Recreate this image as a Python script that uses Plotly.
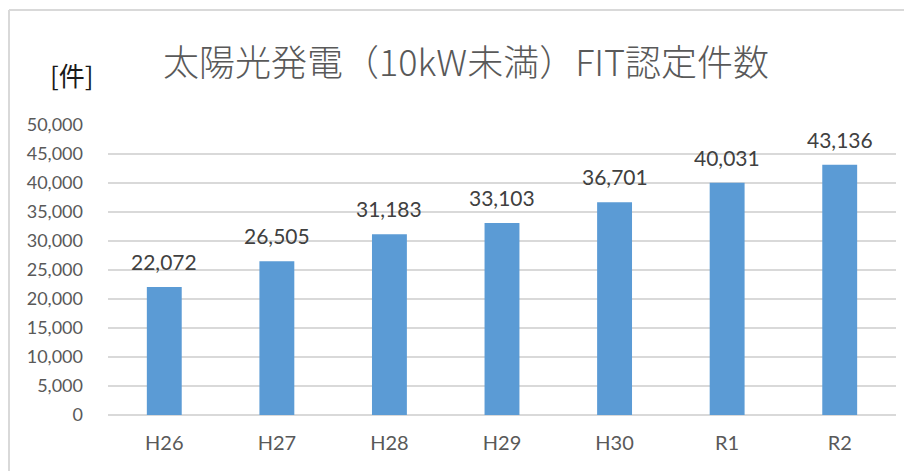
import plotly.graph_objects as go

categories = ["H26", "H27", "H28", "H29", "H30", "R1", "R2"]
counts = [22072, 26505, 31183, 33103, 36701, 40031, 43136]
y_ticks = list(range(0, 50001, 5000))

# the page body adds an 8px margin, so the figure is sized/offset for it
OFF = 8
W, H = 912 - OFF, 471 - OFF
L, R, T, B = 108 - OFF, 16, 125 - OFF, 56
pw, ph = W - L - R, H - T - B


def px(x):
    return (x - OFF - L) / pw


def py(y):
    return (H - B - (y - OFF)) / ph


fig = go.Figure()
fig.add_trace(go.Bar(
    x=categories, y=counts,
    marker=dict(color="#5B9BD5", line=dict(width=0)),
    width=0.31,
    hoverinfo="skip",
))

for c, v in zip(categories, counts):
    fig.add_annotation(
        x=c, y=v, text=f"{v:,}", showarrow=False,
        yanchor="bottom", yshift=11,
        font=dict(family="Lato, Noto Sans", size=21, color="#404040"),
    )

# title and unit label
fig.add_annotation(
    xref="paper", yref="paper",
    x=px(466), y=py(60),
    text="太陽光発電（10kW未満）FIT認定件数", showarrow=False,
    xanchor="center", yanchor="middle",
    font=dict(family="Noto Sans CJK JP", size=36, color="#595959", weight=300),
)
fig.add_annotation(
    xref="paper", yref="paper",
    x=px(72), y=py(74),
    text="[件]", showarrow=False,
    xanchor="center", yanchor="middle",
    font=dict(family="Noto Sans CJK JP", size=26, color="#1a1a1a"),
)

# chart area border (top and left edges visible)
fig.add_shape(type="line", xref="paper", yref="paper",
              x0=px(9), x1=px(930), y0=py(10), y1=py(10),
              line=dict(color="#D9D9D9", width=2))
fig.add_shape(type="line", xref="paper", yref="paper",
              x0=px(9), x1=px(9), y0=py(10), y1=py(500),
              line=dict(color="#D9D9D9", width=2))

fig.update_layout(
    width=W, height=H,
    margin=dict(l=L, r=R, t=T, b=B, pad=0),
    paper_bgcolor="white", plot_bgcolor="white",
    showlegend=False,
    xaxis=dict(
        showgrid=False, showline=False, ticks="",
        tickfont=dict(family="Lato, Noto Sans", size=20, color="#595959"),
        ticklabelstandoff=14,
    ),
    yaxis=dict(
        range=[0, 50000], tickvals=y_ticks, tickformat=",d",
        showgrid=True, gridcolor="#D9D9D9", gridwidth=1.5,
        zeroline=True, zerolinecolor="#D9D9D9", zerolinewidth=1.5,
        showline=False, ticks="",
        tickfont=dict(family="Lato, Noto Sans", size=18, color="#595959"),
        ticklabelstandoff=24,
    ),
)

fig.write_html("out.html")
